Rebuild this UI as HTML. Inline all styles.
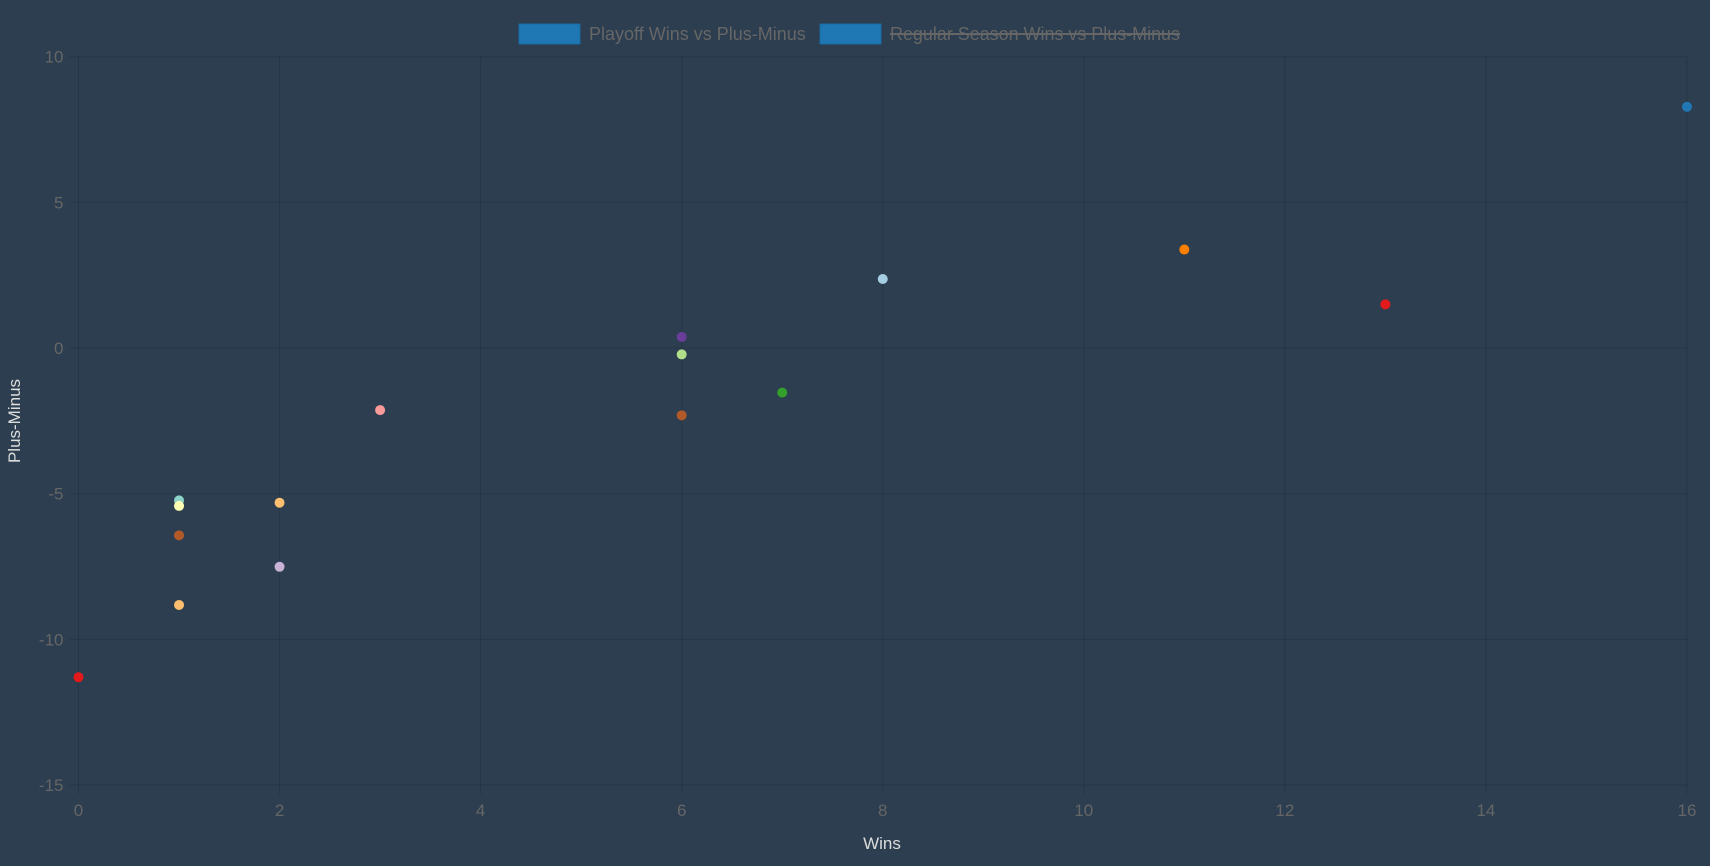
<!DOCTYPE html>
<html><head><meta charset="utf-8"><style>
html,body{margin:0;padding:0;background:#2c3e50;width:1710px;height:866px;overflow:hidden}
svg{display:block;font-family:"Liberation Sans",sans-serif}
</style></head><body>
<svg id="chart" width="1710" height="866">
<rect width="1710" height="866" fill="#2c3e50"/>
<g>
 <g>
  <rect x="519" y="24" width="61" height="20" fill="#1f78b4" stroke="#1a6aa0"/>
  <text x="589" y="40" font-size="18" fill="#666">Playoff Wins vs Plus-Minus</text>
 </g>
 <g>
  <rect x="820" y="24" width="61" height="20" fill="#1f78b4" stroke="#1a6aa0"/>
  <text x="890" y="40" font-size="18" fill="#666" textLength="290" lengthAdjust="spacingAndGlyphs">Regular Season Wins vs Plus-Minus</text>
  <line x1="890" y1="34" x2="1180" y2="34" stroke="#666" stroke-width="2"/>
 </g>
</g>
<g id="grid"></g>
<g id="points"></g>
<text x="882" y="849" font-size="17" fill="#ddd" text-anchor="middle">Wins</text>
<text x="0" y="0" font-size="17" fill="#ddd" text-anchor="middle" transform="translate(20,421) rotate(-90)">Plus-Minus</text>
</svg>
<script>
const xTicks=[0,2,4,6,8,10,12,14,16];
const yTicks=[10,5,0,-5,-10,-15];
const winsValues=[16,11,13,8,6,6,7,6,3,1,1,2,1,2,1,0];
const plusMinusValues=[8.28,3.38,1.5,2.37,0.38,-0.22,-1.53,-2.31,-2.13,-5.23,-5.42,-5.31,-6.43,-7.51,-8.82,-11.3];
const pointColors=["#1f78b4","#ff7f00","#e31a1c","#a6cee3","#6a3d9a","#b2df8a","#33a02c","#b15928","#fb9a99","#8dd3c7","#ffffb3","#fdbf6f","#b15928","#cab2d6","#fdbf6f","#e31a1c"];
const X0=78.5,X1=1687,Y0=56.7,Y1=785;
const xs=v=>X0+(v-0)/(16-0)*(X1-X0);
const ys=v=>Y0+(10-v)/(10-(-15))*(Y1-Y0);
const NS="http://www.w3.org/2000/svg";
const g=document.getElementById('grid'),p=document.getElementById('points');
function mk(t,a,par){const e=document.createElementNS(NS,t);for(const k in a)e.setAttribute(k,a[k]);par.appendChild(e);return e;}
xTicks.forEach(v=>{
 const l=mk('line',{x1:xs(v),x2:xs(v),y1:Y0,y2:Y1+9,stroke:'rgba(0,0,0,0.13)','stroke-width':1},g);
 
 
 const t=mk('text',{x:xs(v),y:Y1+31,'font-size':17,fill:'#666','text-anchor':'middle'},g);
 t.textContent=v;
 
 
});
yTicks.forEach(v=>{
 const l=mk('line',{x1:X0-9,x2:X1,y1:ys(v),y2:ys(v),stroke:'rgba(0,0,0,0.13)','stroke-width':1},g);
 
 
 const t=mk('text',{x:X0-15,y:ys(v)+6,'font-size':17,fill:'#666','text-anchor':'end'},g);
 t.textContent=v;
 
 
});
winsValues.forEach((w,i)=>{
 const c=mk('circle',{cx:xs(w),cy:ys(plusMinusValues[i]),r:5,fill:pointColors[i]},p);
 
 
});
</script>
</body></html>
